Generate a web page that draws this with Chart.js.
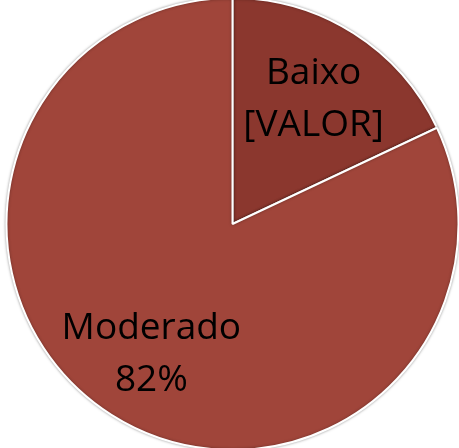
<!DOCTYPE html>
<html>
<head>
<meta charset="utf-8">
<script src="https://cdn.jsdelivr.net/npm/chart.js@4"></script>
<style>
  html, body { margin: 0; padding: 0; background: #fff; }
  #wrap { width: 459px; height: 448px; position: relative; }
</style>
</head>
<body>
<div id="wrap"><canvas id="pieChart"></canvas></div>
<script>
// Chart data
const categories = ['Baixo', 'Moderado'];
const values = [18, 82];
const valueLabels = ['[VALOR]', '82%'];
const sliceColors = ['#8b372e', '#a0453a'];

// Draws the two-line label inside each slice
const sliceLabels = {
    id: 'sliceLabels',
    afterDatasetsDraw(chart) {
        const ctx = chart.ctx;
        const meta = chart.getDatasetMeta(0);
        ctx.save();
        ctx.font = '37px "Open Sans"';
        ctx.fillStyle = '#000';
        ctx.textAlign = 'center';
        ctx.textBaseline = 'middle';
        meta.data.forEach((arc, i) => {
            const p = arc.getProps(['x', 'y', 'startAngle', 'endAngle', 'outerRadius'], true);
            const mid = (p.startAngle + p.endAngle) / 2;
            const r = p.outerRadius * 0.67;
            const cx = p.x + Math.cos(mid) * r;
            const cy = p.y + Math.sin(mid) * r + 3;
            ctx.fillText(categories[i], cx, cy - 26);
            ctx.fillText(valueLabels[i], cx, cy + 26);
        });
        ctx.restore();
    }
};

// Soft edge shadow round the pie
const pieShadow = {
    id: 'pieShadow',
    beforeDatasetsDraw(chart) {
        chart.ctx.save();
        chart.ctx.shadowColor = 'rgba(0,0,0,0.35)';
        chart.ctx.shadowBlur = 3;
    },
    afterDatasetsDraw(chart) {
        chart.ctx.restore();
    }
};

new Chart('pieChart', {
    type: 'pie',
    data: {
        labels: categories,
        datasets: [{
            data: values,
            backgroundColor: sliceColors,
            borderColor: '#ffffff',
            borderWidth: 2
        }]
    },
    options: {
        responsive: true,
        maintainAspectRatio: false,
        animation: false,
        radius: 226,
        layout: { padding: { left: 6, right: 0, top: 0, bottom: 0 } },
        plugins: {
            legend: { display: false },
            tooltip: { enabled: false }
        }
    },
    plugins: [pieShadow, sliceLabels]
});
</script>
</body>
</html>
